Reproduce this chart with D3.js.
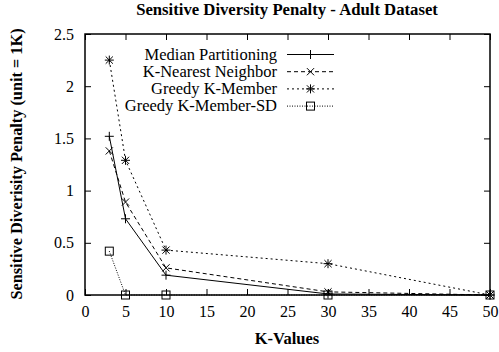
<!DOCTYPE html>
<html>
<head>
<meta charset="utf-8">
<script src="https://cdn.jsdelivr.net/npm/d3@7"></script>
<style>
body { margin: 0; background: #fff; }
</style>
</head>
<body>
<script>
// data
var kValues = [3, 5, 10, 30, 50];
var seriesNames = ["Median Partitioning", "K-Nearest Neighbor", "Greedy K-Member", "Greedy K-Member-SD"];
var medianPart = [1.52, 0.73, 0.19, 0.01, 0];
var kNearest = [1.38, 0.89, 0.26, 0.03, 0];
var greedy = [2.25, 1.29, 0.43, 0.30, 0];
var greedySD = [0.42, 0, 0, 0, 0];
var xTicks = [0, 5, 10, 15, 20, 25, 30, 35, 40, 45, 50];
var yTicks = [0, 0.5, 1, 1.5, 2, 2.5];

var FONT = "'Liberation Serif'";
var width = 499, height = 352;
var margin = {left: 85, right: 9, top: 34, bottom: 57};
var x0 = margin.left, x1 = width - margin.right,
    y0 = height - margin.bottom, y1 = margin.top;

var svg = d3.select("body").append("svg")
    .attr("width", width)
    .attr("height", height);

var x = d3.scaleLinear().domain([0, 50]).range([x0, x1]);
var y = d3.scaleLinear().domain([0, 2.5]).range([y0, y1]);

//axes with inner ticks, mirrored on top/right
svg.append("g").attr("transform", "translate(0," + y0 + ")")
    .call(d3.axisBottom(x).tickValues(xTicks).tickSize(-6).tickPadding(11).tickFormat(d3.format("d")));
svg.append("g").attr("transform", "translate(0," + y1 + ")")
    .call(d3.axisTop(x).tickValues(xTicks).tickSize(-6).tickFormat(""));
svg.append("g").attr("transform", "translate(" + x0 + ",0)")
    .call(d3.axisLeft(y).tickValues(yTicks).tickSize(-6).tickPadding(11).tickFormat(function(d){ return String(d); }));
svg.append("g").attr("transform", "translate(" + x1 + ",0)")
    .call(d3.axisRight(y).tickValues(yTicks).tickSize(-6).tickFormat(""));

svg.selectAll(".domain").remove();
svg.selectAll(".tick line").attr("stroke", "#000").attr("stroke-width", 1);
svg.selectAll(".tick text").style("font-size", "16px").style("font-family", FONT).attr("fill", "#000");

svg.append("rect")
    .attr("x", x0).attr("y", y1)
    .attr("width", x1 - x0).attr("height", y0 - y1)
    .attr("fill", "none").attr("stroke", "#000").attr("stroke-width", 1.5);

// titles
svg.append("text").attr("x", 287).attr("y", 15).attr("text-anchor", "middle")
    .style("font-family", FONT).style("font-size", "16.7px").style("font-weight", "bold")
    .text("Sensitive Diversity Penalty - Adult Dataset");
svg.append("text").attr("x", 287).attr("y", 344).attr("text-anchor", "middle")
    .style("font-family", FONT).style("font-size", "16.5px").style("font-weight", "bold")
    .text("K-Values");
svg.append("text").attr("transform", "translate(22,164) rotate(-90)").attr("text-anchor", "middle")
    .style("font-family", FONT).style("font-size", "16.3px").style("font-weight", "bold")
    .text("Sensitive Diverisity Penalty (unit = 1K)");

var series = [
    {name: seriesNames[0], values: medianPart, dash: null, mark: "plus"},
    {name: seriesNames[1], values: kNearest, dash: "4,3", mark: "cross"},
    {name: seriesNames[2], values: greedy, dash: "2,3", mark: "star"},
    {name: seriesNames[3], values: greedySD, dash: "1,1.5", mark: "box"}
];

function drawMark(g, type, cx, cy) {
    var s = 4.5;
    if (type == "plus" || type == "star") {
        g.append("path").attr("d", "M" + (cx - s) + "," + cy + "H" + (cx + s) + "M" + cx + "," + (cy - s) + "V" + (cy + s))
            .attr("stroke", "#000").attr("stroke-width", 1);
    }
    if (type == "cross" || type == "star") {
        var c = 3.6;
        g.append("path").attr("d", "M" + (cx - c) + "," + (cy - c) + "L" + (cx + c) + "," + (cy + c) + "M" + (cx - c) + "," + (cy + c) + "L" + (cx + c) + "," + (cy - c))
            .attr("stroke", "#000").attr("stroke-width", 1);
    }
    if (type == "box") {
        g.append("rect").attr("x", cx - 4).attr("y", cy - 4).attr("width", 8).attr("height", 8)
            .attr("fill", "none").attr("stroke", "#000").attr("stroke-width", 1);
    }
}

var line = d3.line()
    .x(function(d){ return x(d[0]); })
    .y(function(d){ return y(d[1]); });

series.forEach(function(s, i){
    var pts = kValues.map(function(k, j){ return [k, s.values[j]]; });
    var g = svg.append("g");
    g.append("path").datum(pts)
        .attr("d", line)
        .attr("fill", "none").attr("stroke", "#000").attr("stroke-width", 1)
        .attr("stroke-dasharray", s.dash);
    pts.forEach(function(p){ drawMark(g, s.mark, x(p[0]), y(p[1])); });

    //legend entry
    var ly = 54.5 + i * 17.2;
    svg.append("text").attr("x", 277).attr("y", ly + 5).attr("text-anchor", "end")
        .style("font-family", FONT).style("font-size", "16.5px").text(s.name);
    g.append("line").attr("x1", 287).attr("x2", 334).attr("y1", ly).attr("y2", ly)
        .attr("stroke", "#000").attr("stroke-width", 1).attr("stroke-dasharray", s.dash);
    drawMark(g, s.mark, 310.5, ly);
});
</script>
</body>
</html>
